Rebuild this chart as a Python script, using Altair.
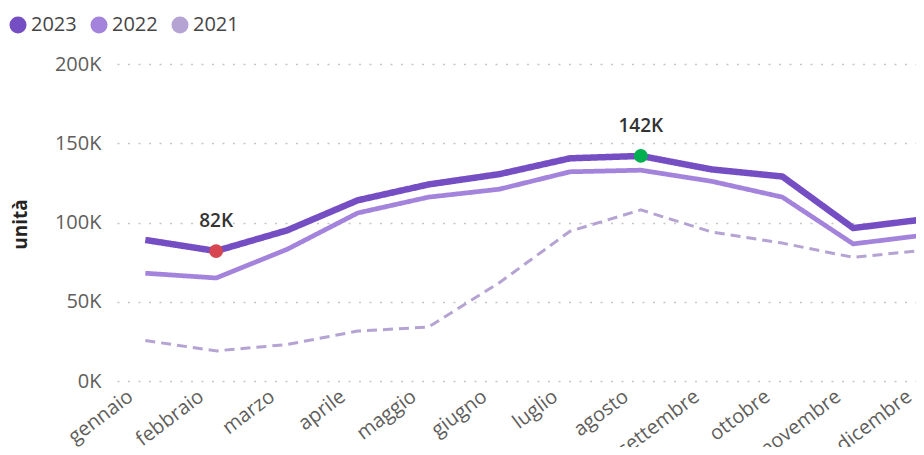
import altair as alt
import pandas as pd

months = ["gennaio", "febbraio", "marzo", "aprile", "maggio", "giugno",
          "luglio", "agosto", "settembre", "ottobre", "novembre", "dicembre"]
years = ["2023", "2022", "2021"]
v2023 = [89000, 82000, 95000, 114000, 124000, 130500, 140500, 142000, 133500, 129000, 96500, 102000]
v2022 = [68000, 65000, 83000, 106000, 116000, 121000, 132000, 133000, 126000, 116000, 86500, 92000]
v2021 = [25500, 19000, 23000, 31500, 34000, 62000, 94500, 108000, 94000, 87000, 78000, 82500]
colors = ["#744EC2", "#A383DB", "#B4A3D3"]
y_ticks = [0, 50000, 100000, 150000, 200000]

rows = []
for yr, vals in zip(years, [v2023, v2022, v2021]):
    for i, (m, v) in enumerate(zip(months, vals)):
        rows.append({"anno": yr, "mese": m, "idx": i, "unita": v})
df = pd.DataFrame(rows)

imin = v2023.index(min(v2023))
imax = v2023.index(max(v2023))
hl = pd.DataFrame([
    {"idx": imin, "unita": v2023[imin], "tipo": "min", "lab": f"{v2023[imin]/1000:.0f}K"},
    {"idx": imax, "unita": v2023[imax], "tipo": "max", "lab": f"{v2023[imax]/1000:.0f}K"},
])

month_expr = "[" + ",".join(f"'{m}'" for m in months) + "][datum.value]"
FONT = "Open Sans"

xscale = alt.Scale(domain=[-0.4, 11], nice=False, zero=False)
yscale = alt.Scale(domain=[0, 200000], nice=False)

x_enc = alt.X("idx:Q", scale=xscale, axis=alt.Axis(
    values=list(range(12)), labelExpr=month_expr, title=None,
    grid=False, domain=False, ticks=False, labelAngle=323,
    labelAlign="right", labelBaseline="middle", labelPadding=13,
    labelOffset=-15,
    labelFontSize=20, labelColor="#605E5C", labelFont=FONT,
    labelOverlap=False, labelFlush=False, labelBound=False))
y_enc = alt.Y("unita:Q", scale=yscale, axis=alt.Axis(
    values=y_ticks, labelExpr="datum.value/1000 + 'K'", title="unità",
    titleFont=FONT, titleFontSize=19, titleFontWeight="bold",
    titleColor="#252423", titleAngle=270, titleX=-97, titleY=160,
    titleAlign="center", titleBaseline="middle",
    grid=True, gridDash=[2, 8.5], gridWidth=1.6, gridColor="#C8C6C4",
    domain=False, ticks=False, labelPadding=16, labelFontSize=20,
    labelColor="#605E5C", labelFont=FONT))

lines = alt.Chart(df).mark_line(clip=True, strokeCap="butt", strokeJoin="round").encode(
    x=x_enc, y=y_enc,
    color=alt.Color("anno:N", scale=alt.Scale(domain=years, range=colors), legend=None),
    strokeWidth=alt.StrokeWidth("anno:N", scale=alt.Scale(domain=years, range=[6.5, 3, 2]), legend=None),
    strokeDash=alt.StrokeDash("anno:N", scale=alt.Scale(domain=years, range=[[1, 0], [1, 0], [10, 6]]), legend=None),
    detail="anno:N",
)

legend_pts = alt.Chart(df).mark_point(filled=True, opacity=0, size=1).encode(
    x=alt.X("idx:Q", scale=xscale),
    y=alt.Y("unita:Q", scale=yscale),
    color=alt.Color("anno:N", scale=alt.Scale(domain=years, range=colors),
                    legend=alt.Legend(
                        title=None, orient="none", legendX=-109, legendY=-49,
                        direction="horizontal", symbolType="circle", symbolSize=290,
                        symbolOpacity=1, symbolStrokeWidth=0,
                        labelFontSize=20, labelFont=FONT, labelColor="#454545",
                        columnPadding=12, labelOffset=3, symbolOffset=0)),
)

pts = alt.Chart(hl).mark_point(filled=True, size=190, opacity=1).encode(
    x=alt.X("idx:Q", scale=xscale),
    y=alt.Y("unita:Q", scale=yscale),
    color=alt.Color("tipo:N", scale=alt.Scale(domain=["min", "max"], range=["#D64550", "#00B050"]), legend=None),
)

labels = alt.Chart(hl).mark_text(dy=-24, baseline="alphabetic", fontSize=19,
                                 fontWeight=600, font=FONT, color="#333333").encode(
    x=alt.X("idx:Q", scale=xscale),
    y=alt.Y("unita:Q", scale=yscale),
    text="lab:N",
)

chart = alt.layer(lines, legend_pts, pts, labels).resolve_scale(color="independent").properties(
    width=807, height=317,
    autosize=alt.AutoSizeParams(type="none"),
    padding={"left": 109, "top": 56, "right": -8, "bottom": 66},
).configure_view(stroke=None)

chart.save("out.html", embed_options={"renderer": "svg", "actions": False})
